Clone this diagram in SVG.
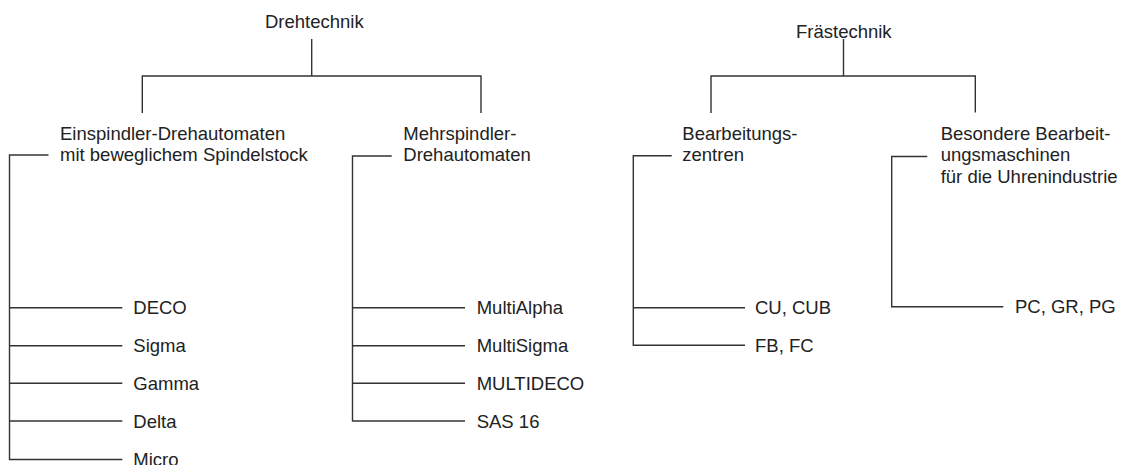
<svg xmlns="http://www.w3.org/2000/svg" width="1131" height="465" viewBox="0 0 1131 465">
<style>
text{font-family:"Liberation Sans",Arial,sans-serif;font-size:18.5px;fill:#222}
.c line,.c polyline{stroke:#333;stroke-width:1.4;fill:none}
</style>
<rect width="1131" height="465" fill="#fff"/>
<g class="c" id="connectors">
<line x1="311.7" y1="39" x2="311.7" y2="76"/>
<polyline points="142.3,113 142.3,76 481,76 481,113"/>
<line x1="843.5" y1="39" x2="843.5" y2="76"/>
<polyline points="711,113 711,76 975.3,76 975.3,112.5"/>
<polyline points="48.5,155 9.5,155 9.5,459.5 122.3,459.5"/>
<line x1="9.5" y1="307.7" x2="122.3" y2="307.7"/>
<line x1="9.5" y1="345.7" x2="122.3" y2="345.7"/>
<line x1="9.5" y1="383.3" x2="122.3" y2="383.3"/>
<line x1="9.5" y1="421" x2="122.3" y2="421"/>
<polyline points="391.7,156 352.5,156 352.5,421 465,421"/>
<line x1="352.5" y1="307.7" x2="465" y2="307.7"/>
<line x1="352.5" y1="345.7" x2="465" y2="345.7"/>
<line x1="352.5" y1="383.3" x2="465" y2="383.3"/>
<polyline points="671.7,155.7 633.3,155.7 633.3,345.3 745,345.3"/>
<line x1="633.3" y1="307.7" x2="745" y2="307.7"/>
<polyline points="927.3,156.5 891.7,156.5 891.7,306.7 1003.3,306.7"/>
</g>
<g id="drehtechnik"><text x="265" y="28">Drehtechnik</text></g>
<g id="fraestechnik"><text x="796" y="38.3">Frästechnik</text></g>
<g id="einspindler"><text x="60" y="140">Einspindler-Drehautomaten</text><text x="60" y="161.3">mit beweglichem Spindelstock</text></g>
<g id="mehrspindler"><text x="403.3" y="140">Mehrspindler-</text><text x="403.3" y="161.3">Drehautomaten</text></g>
<g id="bearbeitungszentren"><text x="682.3" y="140">Bearbeitungs-</text><text x="682.3" y="161.3">zentren</text></g>
<g id="besondere"><text x="940.7" y="140">Besondere Bearbeit-</text><text x="940.7" y="161.3">ungsmaschinen</text><text x="940.7" y="182.6">für die Uhrenindustrie</text></g>
<g id="deco"><text x="133.3" y="314.3">DECO</text></g>
<g id="sigma"><text x="133.3" y="352.3">Sigma</text></g>
<g id="gamma"><text x="133.3" y="389.9">Gamma</text></g>
<g id="delta"><text x="133.3" y="427.6">Delta</text></g>
<g id="micro"><text x="133.3" y="466">Micro</text></g>
<g id="multialpha"><text x="476.7" y="314.3">MultiAlpha</text></g>
<g id="multisigma"><text x="476.7" y="352.3">MultiSigma</text></g>
<g id="multideco"><text x="476.7" y="389.9">MULTIDECO</text></g>
<g id="sas16"><text x="476.7" y="427.6">SAS 16</text></g>
<g id="cucub"><text x="755" y="314.3">CU, CUB</text></g>
<g id="fbfc"><text x="755" y="351.9">FB, FC</text></g>
<g id="pcgrpg"><text x="1015" y="313.3">PC, GR, PG</text></g>
</svg>
